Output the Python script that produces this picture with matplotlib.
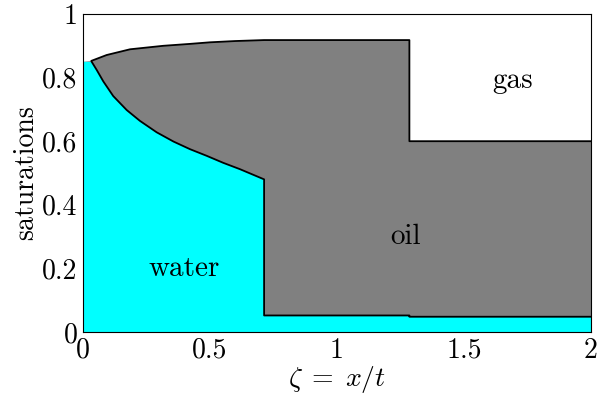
import matplotlib
matplotlib.use('Agg')
import matplotlib.pyplot as plt

plt.rcParams['font.family'] = 'serif'
plt.rcParams['font.serif'] = ['cmr10']
plt.rcParams['mathtext.fontset'] = 'cm'
plt.rcParams['axes.formatter.use_mathtext'] = True

# water saturation along zeta
zeta_w = [0, 0.034, 0.054, 0.08, 0.119, 0.172, 0.224, 0.29, 0.356, 0.421, 0.487,
          0.552, 0.618, 0.713, 0.713, 1.285, 1.285, 2.0]
s_w = [0.85, 0.85, 0.824, 0.788, 0.742, 0.698, 0.664, 0.628, 0.599, 0.575, 0.554,
       0.532, 0.512, 0.480, 0.052, 0.052, 0.048, 0.048]
# water + oil saturation
zeta_o = [0, 0.034, 0.093, 0.185, 0.316, 0.421, 0.5, 0.6, 0.713, 1.285, 1.285, 2.0]
s_wo = [0.85, 0.853, 0.871, 0.889, 0.900, 0.906, 0.911, 0.915, 0.918, 0.918, 0.6, 0.6]

labels = [('water', 0.40, 0.2), ('oil', 1.27, 0.3), ('gas', 1.69, 0.79)]

fig = plt.figure(figsize=(5.97, 4.03), dpi=100)
ax = fig.add_axes([83/597, 1 - 332/403, 508/597, 318/403])

ax.fill(zeta_w + [2.0, 0.0], s_w + [0.0, 0.0], color='cyan', lw=0)
ax.fill(zeta_o + zeta_w[::-1], s_wo + s_w[::-1], color='gray', lw=0)
ax.plot(zeta_w[1:], s_w[1:], 'k', lw=1.3)
ax.plot(zeta_o[1:], s_wo[1:], 'k', lw=1.3)

for txt, x, y in labels:
    ax.text(x, y, txt, fontsize=21, ha='center', va='center')

ax.set_xlim(0, 2)
ax.set_ylim(0, 1)
ax.set_xticks([0, 0.5, 1, 1.5, 2])
ax.set_xticklabels(['0', '0.5', '1', '1.5', '2'])
ax.set_yticks([0, 0.2, 0.4, 0.6, 0.8, 1])
ax.set_yticklabels(['0', '0.2', '0.4', '0.6', '0.8', '1'])
ax.tick_params(length=0, labelsize=20, pad=4)
ax.set_xlabel(r'$\zeta\;=\;x/t$', fontsize=20, labelpad=0)
ax.set_ylabel('saturations', fontsize=20, labelpad=2)

fig.savefig('out.png', dpi=100)
